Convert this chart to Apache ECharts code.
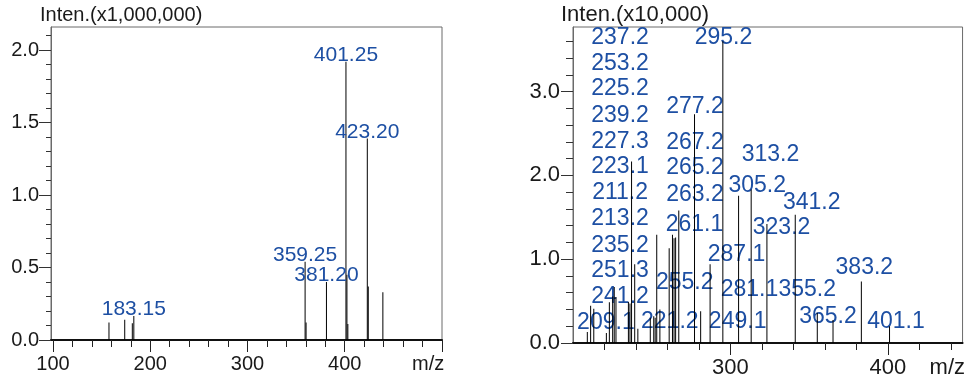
<!DOCTYPE html>
<html>
<head>
<meta charset="utf-8">
<script src="https://cdn.jsdelivr.net/npm/echarts@6/dist/echarts.min.js"></script>
<style>
  html, body { margin: 0; padding: 0; background: #fff; }
  #chart { width: 968px; height: 382px; }
</style>
</head>
<body>
<div id="chart"></div>
<script>
// ---- Spectrum A: intensity in units of 1,000,000 ----
const leftMz    = [157.6, 173.8, 181.6, 183.15, 359.25, 360.25, 381.20, 401.25, 402.25, 403.2, 423.20, 424.2, 439.2];
const leftInten = [0.12,  0.14,  0.115, 0.165,  0.54,   0.12,   0.40,   1.92,   0.45,   0.11,  1.39,   0.37,  0.33];
const leftLabeled = [183.15, 359.25, 381.20, 401.25, 423.20];

const leftXMajorTicks  = [100, 200, 300, 400, 500];
const leftXTickLabels  = [100, 200, 300, 400];
const leftXMinorTicks  = [120, 140, 160, 180, 220, 240, 260, 280, 320, 340, 360, 380, 420, 440, 460, 480];
const leftYTickLabels  = [0, 0.5, 1.0, 1.5, 2.0];
const leftYMinorTicks  = [0.1, 0.2, 0.3, 0.4, 0.6, 0.7, 0.8, 0.9, 1.1, 1.2, 1.3, 1.4, 1.6, 1.7, 1.8, 1.9, 2.1];

// ---- Spectrum B: intensity in units of 10,000 ----
const rightMz    = [209.1, 211.2, 213.2, 221.2, 223.1, 225.2, 226.2, 227.3, 235.2, 236.2, 237.2, 239.2, 241.2,
                    249.1, 251.3, 252.2, 253.2, 255.2, 261.1, 263.2, 264.2, 265.2, 267.2, 277.2, 281.1, 287.1,
                    295.2, 305.2, 313.2, 323.2, 341.2, 355.2, 365.2, 383.2, 401.1];
const rightInten = [0.13,  0.445, 0.41,  0.12,  0.485, 0.556, 0.668, 0.548, 0.49,  0.47,  2.165, 0.94,  0.17,
                    0.30,  0.32,  0.30,  1.29,  0.40,  1.13,  1.29,  1.25,  1.26,  1.58,  2.73,  0.38,  0.94,
                    3.60,  1.756, 1.83,  1.42,  1.53,  0.36,  0.275, 0.735, 0.20];

// Where each peak annotation of spectrum B sits (m/z, intensity of the text centre)
const rightLabelPeaks = [237.2, 253.2, 225.2, 239.2, 227.3, 223.1, 211.2, 213.2, 235.2, 251.3, 241.2, 209.1,
                         295.2, 277.2, 267.2, 265.2, 263.2, 261.1, 255.2, 221.2,
                         313.2, 305.2, 341.2, 323.2, 287.1, 383.2, 281.1, 355.2, 249.1, 365.2, 401.1];
const rightLabelAt = [
  [229.9, 3.648], [229.9, 3.338], [229.9, 3.029], [229.9, 2.714], [229.9, 2.404], [229.9, 2.106],
  [229.9, 1.788], [229.9, 1.478], [229.9, 1.164], [229.9, 0.866], [229.9, 0.556], [220.9, 0.238],
  [295.6, 3.637], [277.45, 2.814], [277.45, 2.392], [277.45, 2.087], [277.45, 1.768], [277.2, 1.411],
  [270.95, 0.715], [261.5, 0.258],
  [325.45, 2.245], [317.05, 1.879], [351.65, 1.669], [332.5, 1.371], [303.9, 1.053], [385.1, 0.894],
  [312.1, 0.636], [348.8, 0.636], [304.6, 0.258], [362.0, 0.317], [405.2, 0.258]
];

const rightXTickLabels = [300, 400];
const rightXMinorTicks = [220, 240, 260, 280, 320, 340, 360, 380, 420, 440];
const rightYTickLabels = [0, 1.0, 2.0, 3.0];
const rightYMinorTicks = [0.2, 0.4, 0.6, 0.8, 1.2, 1.4, 1.6, 1.8, 2.2, 2.4, 2.6, 2.8, 3.2, 3.4, 3.6];

const FONT = 'Liberation Sans, Arial, Helvetica, sans-serif';
const BLUE = '#1d4fa3';
const INK = '#1a1a1a';
const FRAME = '#6a6a6a';

function majorX(gridIndex, min, max, ticks, labels, fontSize, nameGap) {
  return {
    type: 'value', gridIndex, min, max, position: 'bottom',
    axisLine: { show: true, onZero: false, lineStyle: { color: '#111', width: 2 } },
    axisTick: { show: true, customValues: ticks, length: 12, lineStyle: { color: '#222', width: 1 } },
    axisLabel: { show: true, customValues: labels, margin: 14, fontSize, color: INK, fontFamily: FONT },
    splitLine: { show: false },
    name: 'm/z', nameLocation: 'end', nameGap,
    nameTextStyle: { fontSize, color: INK, fontFamily: FONT, align: 'left', verticalAlign: 'top', padding: [14, 0, 0, 0] }
  };
}
function minorX(gridIndex, min, max, ticks) {
  return {
    type: 'value', gridIndex, min, max, position: 'bottom',
    axisLine: { show: false },
    axisTick: { show: true, customValues: ticks, length: 7, lineStyle: { color: '#222', width: 1 } },
    axisLabel: { show: false }, splitLine: { show: false }
  };
}
function majorY(gridIndex, max, labels, fontSize, margin) {
  return {
    type: 'value', gridIndex, min: 0, max, position: 'left',
    axisLine: { show: true, onZero: false, lineStyle: { color: FRAME, width: 1 } },
    axisTick: { show: true, customValues: labels, length: 12, lineStyle: { color: '#333', width: 1 } },
    axisLabel: { show: true, customValues: labels, margin, fontSize, color: INK, fontFamily: FONT,
                 formatter: v => Number(v).toFixed(1) },
    splitLine: { show: false }
  };
}
function minorY(gridIndex, max, ticks, len) {
  return {
    type: 'value', gridIndex, min: 0, max, position: 'left',
    axisLine: { show: false },
    axisTick: { show: true, customValues: ticks, length: len, lineStyle: { color: '#333', width: 1 } },
    axisLabel: { show: false }, splitLine: { show: false }
  };
}

const leftData = leftMz.map((m, i) => ({
  value: [m, leftInten[i]],
  label: { show: leftLabeled.includes(m) }
}));
const rightData = rightMz.map((m, i) => [m, rightInten[i]]);
const rightLabelData = rightLabelPeaks.map((m, i) => ({ value: rightLabelAt[i], name: m.toFixed(1) }));

const chart = echarts.init(document.getElementById('chart'), null, { renderer: 'canvas' });
chart.setOption({
  animation: false,
  backgroundColor: '#ffffff',
  title: [
    { text: 'Inten.(x1,000,000)', left: 40, top: 5, padding: 0,
      textStyle: { fontSize: 20, fontWeight: 'normal', color: INK, fontFamily: FONT } },
    { text: 'Inten.(x10,000)', left: 561, top: 4, padding: 0,
      textStyle: { fontSize: 22, fontWeight: 'normal', color: INK, fontFamily: FONT } }
  ],
  grid: [
    { left: 51, top: 27, width: 391, height: 313, show: true, borderColor: FRAME, borderWidth: 1, containLabel: false },
    { left: 573, top: 27, width: 391, height: 316, show: true, borderColor: FRAME, borderWidth: 1, containLabel: false }
  ],
  xAxis: [
    majorX(0, 98, 500, leftXMajorTicks, leftXTickLabels, 20, -30),
    minorX(0, 98, 500, leftXMinorTicks),
    majorX(1, 200, 447.5, rightXTickLabels, rightXTickLabels, 22, -33),
    minorX(1, 200, 447.5, rightXMinorTicks)
  ],
  yAxis: [
    majorY(0, 2.16, leftYTickLabels, 20, 12),
    minorY(0, 2.16, leftYMinorTicks, 5),
    majorY(1, 3.77, rightYTickLabels, 22, 13),
    minorY(1, 3.77, rightYMinorTicks, 7)
  ],
  series: [
    {
      type: 'bar', xAxisIndex: 0, yAxisIndex: 0, barWidth: 1,
      itemStyle: { color: '#000' },
      label: { position: 'top', distance: -4, fontSize: 21, color: BLUE, fontFamily: FONT,
               formatter: p => p.value[0].toFixed(2) },
      data: leftData
    },
    {
      type: 'bar', xAxisIndex: 2, yAxisIndex: 2, barWidth: 1,
      itemStyle: { color: '#000' },
      data: rightData
    },
    {
      type: 'scatter', xAxisIndex: 2, yAxisIndex: 2, symbolSize: 0.01,
      itemStyle: { color: 'rgba(0,0,0,0)', opacity: 1 },
      label: { show: true, position: 'inside', fontSize: 23, color: BLUE, opacity: 1, fontFamily: FONT,
               textBorderWidth: 0, formatter: p => p.name },
      emphasis: { disabled: true },
      z: 1,
      data: rightLabelData
    }
  ]
});
</script>
</body>
</html>
